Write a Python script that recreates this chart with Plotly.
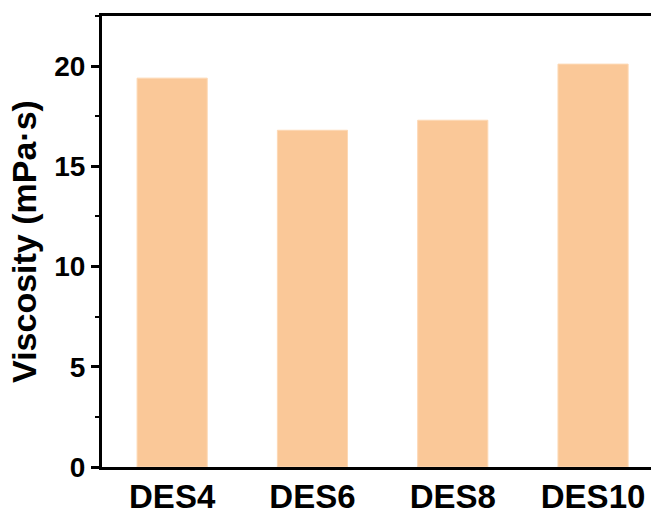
import plotly.graph_objects as go

# Viscosity of each deep eutectic solvent
samples = ["DES4", "DES6", "DES8", "DES10"]
viscosity = [19.4, 16.8, 17.3, 20.1]

y_ticks = [0, 5, 10, 15, 20]

FONT = "Liberation Sans, Arial, sans-serif"

fig = go.Figure(
    go.Bar(
        x=samples,
        y=viscosity,
        width=0.5,
        marker=dict(color="#FAC898", line=dict(color="#FDD8B4", width=1)),
    )
)

fig.update_layout(
    width=651,
    height=514,
    margin=dict(l=102, r=0, t=16, b=47),
    paper_bgcolor="white",
    plot_bgcolor="white",
    showlegend=False,
    font=dict(family=FONT, color="black", weight="bold"),
)

fig.update_xaxes(
    range=[-0.5, 3.413],
    automargin=False,
    showline=True,
    linecolor="black",
    linewidth=3,
    mirror=True,
    ticks="",
    showgrid=False,
    tickfont=dict(size=33, family=FONT, weight="bold"),
    ticklabelstandoff=-2,
)

fig.update_yaxes(
    range=[0, 22.5],
    automargin=False,
    tickvals=y_ticks,
    showline=True,
    linecolor="black",
    linewidth=3,
    ticks="outside",
    ticklen=8,
    tickwidth=3,
    tickcolor="black",
    showgrid=False,
    zeroline=False,
    tickfont=dict(size=28, family=FONT, weight="bold"),
    minor=dict(ticks="outside", ticklen=4, tickwidth=2, dtick=2.5, tick0=0, tickcolor="black"),
    title=dict(text="Viscosity (mPa·s)", font=dict(size=34, family=FONT, weight="bold"), standoff=8),
)

fig.write_html("out.html")
